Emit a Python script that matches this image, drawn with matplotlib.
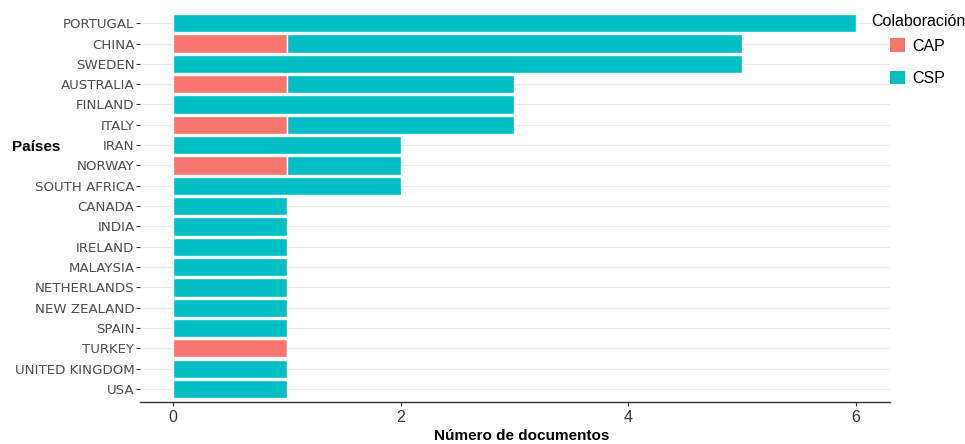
import matplotlib
matplotlib.use("Agg")
import matplotlib.pyplot as plt
from matplotlib.patches import Patch

countries = ["PORTUGAL", "CHINA", "SWEDEN", "AUSTRALIA", "FINLAND", "ITALY", "IRAN",
             "NORWAY", "SOUTH AFRICA", "CANADA", "INDIA", "IRELAND", "MALAYSIA",
             "NETHERLANDS", "NEW ZEALAND", "SPAIN", "TURKEY", "UNITED KINGDOM", "USA"]
cap = [0, 1, 0, 1, 0, 1, 0, 1, 0, 0, 0, 0, 0, 0, 0, 0, 1, 0, 0]
csp = [6, 4, 5, 2, 3, 2, 2, 1, 2, 1, 1, 1, 1, 1, 1, 1, 0, 1, 1]

C_CAP = "#F8766D"
C_CSP = "#00BFC4"
ARIAL = "Liberation Sans"

fig = plt.figure(figsize=(9.65, 4.44), dpi=100)
ax = fig.add_axes([140/965, 1-402/444, 750/965, (402-11)/444])

n = len(countries)
ypos = [n-1-i for i in range(n)]
ax.barh(ypos, cap, height=0.9, color=C_CAP, edgecolor="white", linewidth=1, zorder=3)
ax.barh(ypos, csp, left=cap, height=0.9, color=C_CSP, edgecolor="white", linewidth=1, zorder=3)

ax.set_xlim(-0.29, 6.30)
ax.set_ylim(-0.64, n-1+0.6)
ax.set_yticks(ypos)
ax.set_yticklabels(countries)
ax.set_xticks([0, 2, 4, 6])
ax.set_xticklabels(["0", "2", "4", "6"], family=ARIAL)
ax.tick_params(axis="y", length=3, width=0.8, color="#333333", labelsize=9.6, labelcolor="#4D4D4D", pad=1)
ax.tick_params(axis="x", length=3, width=0.8, color="#333333", labelsize=11.5, labelcolor="#333333", pad=3)
ax.grid(axis="y", color="#EBEBEB", linewidth=0.8, zorder=0)
ax.set_axisbelow(True)
for s in ["left", "top", "right"]:
    ax.spines[s].set_visible(False)
ax.spines["bottom"].set_color("#333333")
ax.spines["bottom"].set_linewidth(1.0)

fig.text(522/965, 1-436/444, "Número de documentos", ha="center", va="center",
         fontsize=11, fontweight="bold", color="black", family=ARIAL)
fig.text(12/965, 1-147/444, "Países", ha="left", va="center",
         fontsize=11, fontweight="bold", color="black", family=ARIAL)

fig.text(871/965, 1-22/444, "Colaboración", ha="left", va="center",
         fontsize=11.5, color="black", family=ARIAL)
handles = [Patch(facecolor=C_CAP, edgecolor="none", label="CAP"),
           Patch(facecolor=C_CSP, edgecolor="none", label="CSP")]
leg = fig.legend(handles=handles, loc="upper left",
                 bbox_to_anchor=(876/965, 1-24/444), frameon=False,
                 prop={"family": ARIAL, "size": 11.5},
                 handlelength=0.9, handleheight=0.9,
                 labelspacing=1.1, handletextpad=0.5)

fig.savefig("out.png", dpi=100)
